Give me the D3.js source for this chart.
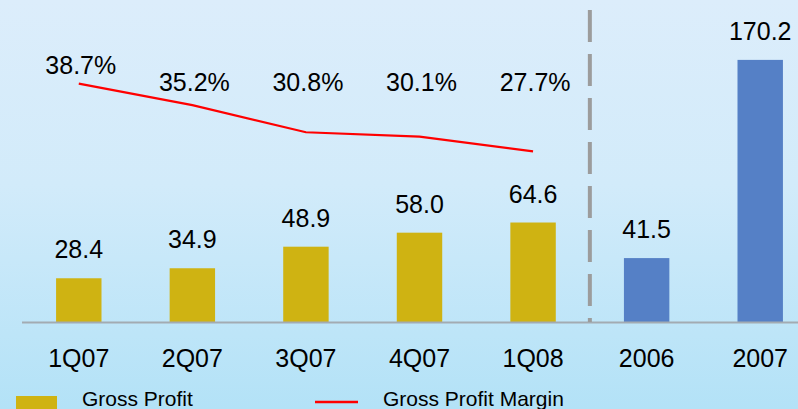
<!DOCTYPE html>
<html>
<head>
<meta charset="utf-8">
<script src="https://cdn.jsdelivr.net/npm/d3@7"></script>
<style>
  html, body { margin: 0; padding: 0; }
  body { width: 798px; height: 409px; overflow: hidden; }
  svg { display: block; font-family: "Liberation Sans", Arial, sans-serif; }
</style>
</head>
<body>
<svg id="chart" width="798" height="409"></svg>
<script>
// data
const categories = ["1Q07", "2Q07", "3Q07", "4Q07", "1Q08", "2006", "2007"];
const grossProfit = [28.4, 34.9, 48.9, 58.0, 64.6, 41.5, 170.2];
const annualCats = ["2006", "2007"];
const marginCats = ["1Q07", "2Q07", "3Q07", "4Q07", "1Q08"];
const grossMargin = [38.7, 35.2, 30.8, 30.1, 27.7];

const W = 798, H = 409;
const svg = d3.select("#chart");

// background, soft blue slide
const defs = svg.append("defs");
const bg = defs.append("linearGradient").attr("id", "bg")
  .attr("x1", 0).attr("y1", 0).attr("x2", 0).attr("y2", 1);
bg.append("stop").attr("offset", "0%").attr("stop-color", "#dcedfb");
bg.append("stop").attr("offset", "45%").attr("stop-color", "#d2ebfa");
bg.append("stop").attr("offset", "100%").attr("stop-color", "#b3e2f7");
svg.append("rect").attr("width", W).attr("height", H).attr("fill", "url(#bg)");

const baseY = 322;
const x = d3.scaleBand().domain(categories).range([22, 817])
  .paddingInner(0.6).paddingOuter(0.3);
const y = d3.scaleLinear().domain([0, 200]).range([baseY, baseY - 308]);
const y2 = d3.scaleLinear().domain([0, 50]).range([baseY, baseY - 308]);

const rows = categories.map((c, i) => ({ cat: c, v: grossProfit[i] }));

// bars
svg.append("g").selectAll("rect")
  .data(rows)
  .enter().append("rect")
  .attr("x", d => x(d.cat))
  .attr("y", d => y(d.v))
  .attr("width", x.bandwidth())
  .attr("height", d => y(0) - y(d.v))
  .attr("fill", d => annualCats.includes(d.cat) ? "#5580c6" : "#cfb312");

// baseline
svg.append("line")
  .attr("x1", 22).attr("x2", W)
  .attr("y1", baseY + 0.5).attr("y2", baseY + 0.5)
  .attr("stroke", "#a3abb2").attr("stroke-width", 2);

// divider between quarters and years
const divX = x("1Q08") + x.bandwidth() / 2 + x.step() / 2;
svg.append("line")
  .attr("x1", divX).attr("x2", divX)
  .attr("y1", 10).attr("y2", baseY)
  .attr("stroke", "#9c9c9c").attr("stroke-width", 4)
  .attr("stroke-dasharray", "32,12");

// bar value labels
svg.append("g").selectAll("text")
  .data(rows)
  .enter().append("text")
  .attr("x", d => x(d.cat) + x.bandwidth() / 2)
  .attr("y", d => y(d.v) - 20)
  .attr("text-anchor", "middle")
  .attr("font-size", 25)
  .attr("fill", "#000")
  .text(d => d.v.toFixed(1));

// category labels
svg.append("g").selectAll("text")
  .data(categories)
  .enter().append("text")
  .attr("x", d => x(d) + x.bandwidth() / 2)
  .attr("y", 367)
  .attr("text-anchor", "middle")
  .attr("font-size", 25)
  .attr("fill", "#000")
  .text(d => d);

// margin line
const mrows = marginCats.map((c, i) => ({ cat: c, v: grossMargin[i] }));
const line = d3.line()
  .x(d => x(d.cat) + x.bandwidth() / 2)
  .y(d => y2(d.v));
svg.append("path")
  .datum(mrows)
  .attr("d", line)
  .attr("fill", "none")
  .attr("stroke", "#ff0000")
  .attr("stroke-width", 2.2);

svg.append("g").selectAll("text")
  .data(mrows)
  .enter().append("text")
  .attr("x", d => x(d.cat) + x.bandwidth() / 2 + 2)
  .attr("y", d => Math.min(y2(d.v) - 10, 91))
  .attr("text-anchor", "middle")
  .attr("font-size", 25)
  .attr("fill", "#000")
  .text(d => d.v.toFixed(1) + "%");

// legend
const leg = svg.append("g");
leg.append("rect").attr("x", 16).attr("y", 396).attr("width", 41).attr("height", 20)
  .attr("fill", "#cfb312");
leg.append("text").attr("x", 82).attr("y", 406).attr("font-size", 21)
  .attr("fill", "#000").text("Gross Profit");
leg.append("line").attr("x1", 315).attr("x2", 358).attr("y1", 402).attr("y2", 402)
  .attr("stroke", "#ff0000").attr("stroke-width", 2.5);
leg.append("text").attr("x", 383).attr("y", 406).attr("font-size", 21)
  .attr("fill", "#000").text("Gross Profit Margin");
</script>
</body>
</html>
